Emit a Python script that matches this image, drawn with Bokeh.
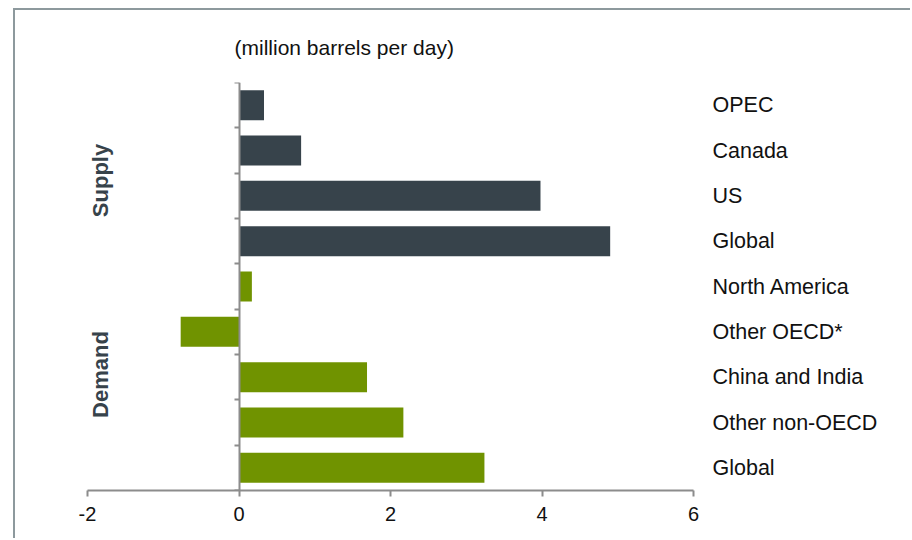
from bokeh.plotting import figure
from bokeh.models import (Range1d, FixedTicker, LinearAxis, Label,
                          CustomJSTickFormatter)
from bokeh.embed import file_html
from bokeh.resources import INLINE
import math

# Change in oil supply and demand, million barrels per day
supply_labels = ["OPEC", "Canada", "US", "Global"]
supply_values = [0.33, 0.82, 3.98, 4.90]
demand_labels = ["North America", "Other OECD*", "China and India", "Other non-OECD", "Global"]
demand_values = [0.17, -0.77, 1.69, 2.17, 3.24]
x_ticks = [-2, 0, 2, 4, 6]

SUPPLY_COLOR = "#37434b"
DEMAND_COLOR = "#709300"
AXIS_COLOR = "#8c8c8c"
TEXT_COLOR = "#111111"
FONT = "Liberation Sans"

labels = supply_labels + demand_labels
values = supply_values + demand_values
n = len(labels)
ys = [n - 0.5 - i for i in range(n)]
colors = [SUPPLY_COLOR] * len(supply_labels) + [DEMAND_COLOR] * len(demand_labels)

p = figure(width=897, height=530, output_backend="svg", toolbar_location=None,
           x_range=Range1d(x_ticks[0], x_ticks[-1]), y_range=Range1d(0, n),
           min_border_left=72, min_border_right=219, min_border_top=72,
           min_border_bottom=50,
           title="(million barrels per day)")
p.styles = {"margin-left": "13px", "margin-top": "8px",
            "border-left": "2px solid #8d999d", "border-top": "2px solid #8d999d"}
p.outline_line_color = None
p.xgrid.visible = False
p.ygrid.visible = False

p.title.text_font = FONT
p.title.text_font_size = "21px"
p.title.text_font_style = "normal"
p.title.text_color = TEXT_COLOR
p.title.align = "left"
p.title.offset = 147
p.title.standoff = 47

p.hbar(y=ys, left=0, right=values, height=0.66, color=colors, line_color=None)

# value axis
xa = p.xaxis[0]
xa.ticker = FixedTicker(ticks=x_ticks)
xa.major_label_overrides = {t: str(t) for t in x_ticks}
xa.axis_line_color = AXIS_COLOR
xa.axis_line_width = 2
xa.major_tick_line_color = AXIS_COLOR
xa.major_tick_line_width = 2
xa.major_tick_in = 0
xa.major_tick_out = 6
xa.minor_tick_line_color = None
xa.major_label_text_font = FONT
xa.major_label_text_font_size = "20px"
xa.major_label_text_color = TEXT_COLOR
xa.major_label_standoff = 10

# category axis sits on the zero line, ticks between bars
ya = p.yaxis[0]
ya.fixed_location = 0
ya.ticker = FixedTicker(ticks=list(range(n + 1)))
ya.formatter = CustomJSTickFormatter(code="return ''")
ya.axis_line_color = AXIS_COLOR
ya.axis_line_width = 2
ya.major_tick_line_color = AXIS_COLOR
ya.major_tick_line_width = 2
ya.major_tick_in = 0
ya.major_tick_out = 5
ya.minor_tick_line_color = None

# category names to the right of the plot area
ra = LinearAxis(ticker=FixedTicker(ticks=ys),
                major_label_overrides={y: lab for y, lab in zip(ys, labels)},
                axis_line_color=None, major_tick_line_color=None,
                minor_tick_line_color=None, major_label_standoff=13,
                major_label_text_font=FONT, major_label_text_font_size="21.5px",
                major_label_text_color=TEXT_COLOR)
p.add_layout(ra, "right")

for txt, yy in (("Supply", 310), ("Demand", 116)):
    p.add_layout(Label(x=13, y=yy, x_units="screen", y_units="screen", text=txt,
                       angle=math.pi / 2, text_font=FONT, text_font_size="22px",
                       text_font_style="bold", text_color=SUPPLY_COLOR,
                       text_align="center", text_baseline="middle"))

open("out.html", "w").write(file_html(p, INLINE))
